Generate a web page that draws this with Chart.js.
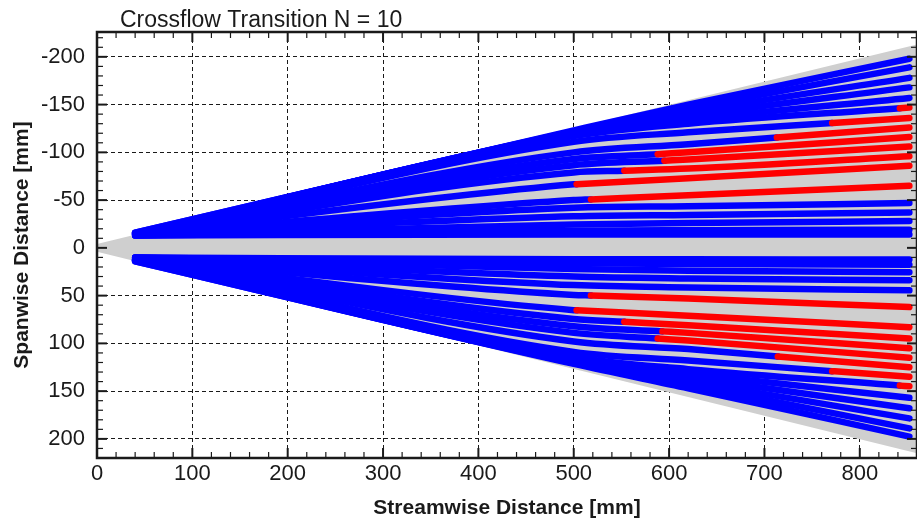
<!DOCTYPE html>
<html>
<head>
<meta charset="utf-8">
<script src="https://cdn.jsdelivr.net/npm/chart.js@4.4.1/dist/chart.umd.min.js"></script>
<style>
  html, body { margin: 0; padding: 0; background: #fff; }
  #wrap { width: 917px; height: 523px; }
</style>
</head>
<body>
<div id="wrap"><canvas id="crossflow"></canvas></div>
<script>
// streamwise stations (mm) where each path's spanwise position was read
const pathX = [40, 500, 620, 852];

// upper fan (negative spanwise), outermost path first
const upperAt40  = [-16, -16, -15, -15, -15, -15, -15, -14, -14, -14, -14, -14, -14, -14, -14, -13, -13, -13];
const upperAt500 = [-123, -122, -121, -120, -118.5, -117, -111, -100, -93, -86.5, -79, -66.5, -50, -42, -33, -24.5, -18, -14];
const upperAt620 = [-150, -146, -142, -138, -134, -130, -121, -108.5, -100, -92.5, -83, -73, -55, -43.5, -34.5, -26, -18.5, -14];
const upperAt852 = [-198, -189, -178, -168, -157, -147, -136, -126, -116, -106, -96, -86, -65, -47, -37, -28, -19, -14];
const upperTransition = [null, null, null, null, null, 842, 771, 713, 588, 595, 553, 503, 518, null, null, null, null, null];

// lower fan (positive spanwise), outermost path first
const lowerAt40  = [14, 14, 13, 13, 13, 13, 13, 12, 12, 12, 12, 12, 12, 11, 11, 10, 10, 10];
const lowerAt500 = [121.5, 120.5, 119.5, 118, 116.5, 114.5, 109, 98, 89, 82, 74.5, 65.2, 49.3, 39, 30, 22, 16, 12];
const lowerAt620 = [147, 143, 139.5, 135.5, 131.5, 127, 118, 106, 97, 89, 81, 71, 53, 41.5, 32, 24, 17, 12];
const lowerAt852 = [197.6, 189, 178.5, 168, 157, 145, 135, 125, 115, 105, 95, 83, 62, 44.5, 34, 25.4, 17.7, 12.2];
const lowerTransition = [null, null, null, null, null, 842, 771, 714, 588, 593, 553, 503, 518, null, null, null, null, null];

// grey swept region: edges at x = 0 and x = 860
const wedgeX = [0, 860];
const wedgeTop = [-4, -213];
const wedgeBottom = [4, 215];

const xTicks = [0, 100, 200, 300, 400, 500, 600, 700, 800];
const yTicks = [-200, -150, -100, -50, 0, 50, 100, 150, 200];

const CTX = document.getElementById('crossflow');
const FONT = "'Liberation Sans', Arial, Helvetica, sans-serif";
const BLUE = '#0000ff';
const RED = '#ff0000';
const GREY = '#cfcfcf';
const INK = '#1a1a1a';

// path points, with the transition station put in so the colour can switch there
function pathOf(a, b, c, d, i, from) {
  const ys = [a[i], b[i], c[i], d[i]];
  let pts = [];
  pathX.forEach((x, k) => {
    if (from !== null && k > 0 && from > pathX[k - 1] && from < x) {
      const t = (from - pathX[k - 1]) / (x - pathX[k - 1]);
      pts.push({ x: from, y: ys[k - 1] + t * (ys[k] - ys[k - 1]) });
    }
    pts.push({ x: x, y: ys[k] });
  });
  return pts;
}

let datasets = [];
datasets.push({
  data: wedgeX.map((x, i) => ({ x: x, y: wedgeTop[i] })),
  borderWidth: 0, pointRadius: 0, fill: false, order: 3
});
datasets.push({
  data: wedgeX.map((x, i) => ({ x: x, y: wedgeBottom[i] })),
  borderWidth: 0, pointRadius: 0, fill: '-1', backgroundColor: GREY, order: 3
});

[[upperAt40, upperAt500, upperAt620, upperAt852, upperTransition],
 [lowerAt40, lowerAt500, lowerAt620, lowerAt852, lowerTransition]].forEach((side) => {
  for (let i = 0; i < side[0].length; i++) {
    const from = side[4][i];
    datasets.push({
      data: pathOf(side[0], side[1], side[2], side[3], i, from),
      borderColor: BLUE, borderWidth: 6.5, pointRadius: 0,
      borderCapStyle: 'round', borderJoinStyle: 'round',
      cubicInterpolationMode: 'monotone', fill: false,
      order: from === null ? 2 : 1,
      segment: {
        borderColor: (ctx) => (from !== null && ctx.p0.parsed.x >= from ? RED : BLUE)
      }
    });
  }
});

const frameTicks = {
  id: 'frameTicks',
  afterDraw(chart) {
    const { ctx, chartArea: a, scales: { x, y } } = chart;
    ctx.save();
    ctx.strokeStyle = INK;
    const seg = (x1, y1, x2, y2) => { ctx.beginPath(); ctx.moveTo(x1, y1); ctx.lineTo(x2, y2); ctx.stroke(); };
    for (let v = 0; v <= x.max; v += 20) {
      const p = x.getPixelForValue(v);
      const major = v % 100 === 0;
      ctx.lineWidth = major ? 2 : 1.2;
      const len = major ? 10 : 6;
      seg(p, a.bottom, p, a.bottom - len);
      seg(p, a.top, p, a.top + len);
    }
    for (let v = -220; v <= y.max; v += 10) {
      const p = y.getPixelForValue(v);
      const major = v % 50 === 0;
      ctx.lineWidth = major ? 2 : 1.2;
      const len = major ? 10 : 6;
      seg(a.left, p, a.left + len, p);
      seg(a.right, p, a.right - len, p);
    }
    ctx.lineWidth = 2.5;
    ctx.strokeRect(a.left, a.top, a.right - a.left, a.bottom - a.top);
    ctx.fillStyle = INK;
    ctx.font = '23px ' + FONT;
    ctx.textBaseline = 'alphabetic';
    ctx.fillText('Crossflow Transition N = 10', a.left + 23, 27);
    ctx.restore();
  }
};

new Chart(CTX, {
  type: 'line',
  data: { datasets: datasets },
  options: {
    responsive: true,
    maintainAspectRatio: false,
    animation: false,
    events: [],
    layout: { padding: { top: 32, right: 0, left: 0, bottom: 0 } },
    plugins: { legend: { display: false }, tooltip: { enabled: false } },
    scales: {
      x: {
        type: 'linear', min: 0, max: 860, z: 1,
        afterBuildTicks: (s) => { s.ticks = xTicks.map(v => ({ value: v })); },
        afterFit: (s) => { s.height = 65; },
        ticks: { padding: 3, color: INK, maxRotation: 0, font: { family: FONT, size: 22 } },
        grid: { color: INK, lineWidth: 1, drawTicks: false },
        border: { display: false, dash: [4, 3] },
        title: {
          display: true, text: 'Streamwise Distance [mm]', color: INK,
          font: { family: FONT, size: 21, weight: 'bold' }, padding: { top: 0, bottom: 2 }
        }
      },
      y: {
        type: 'linear', min: -226, max: 220, reverse: true, z: 1,
        afterBuildTicks: (s) => { s.ticks = yTicks.map(v => ({ value: v })); },
        afterFit: (s) => { s.width = 97; },
        ticks: { padding: 12, color: INK, font: { family: FONT, size: 22 } },
        grid: { color: INK, lineWidth: 1, drawTicks: false },
        border: { display: false, dash: [4, 3] },
        title: {
          display: true, text: 'Spanwise Distance [mm]', color: INK,
          font: { family: FONT, size: 21, weight: 'bold' }, padding: { top: 10, bottom: 0 }
        }
      }
    }
  },
  plugins: [frameTicks]
});
</script>
</body>
</html>
